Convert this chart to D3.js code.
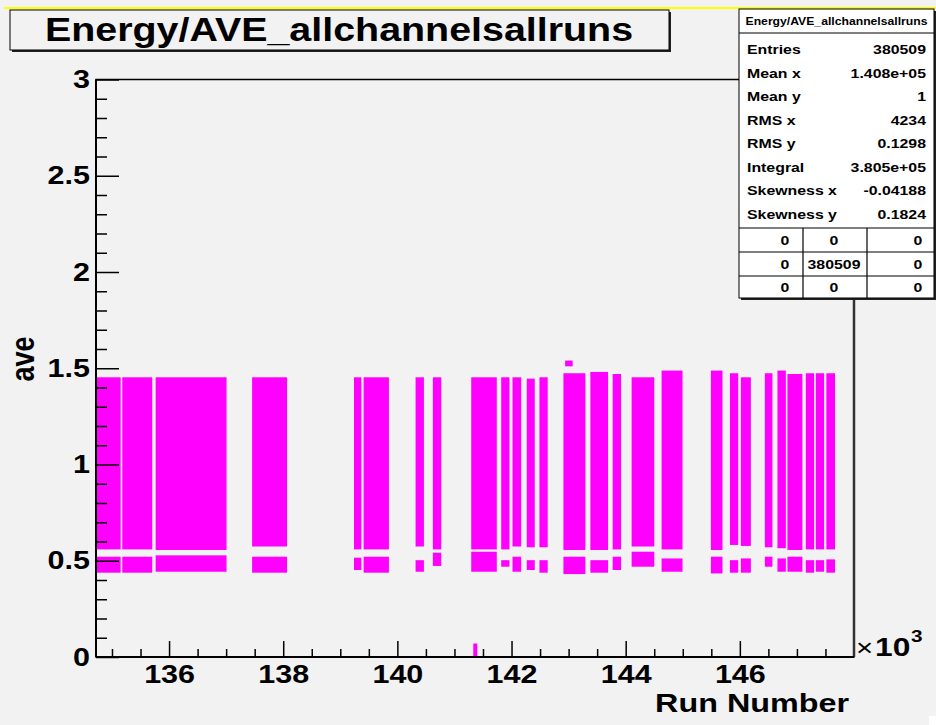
<!DOCTYPE html>
<html>
<head>
<meta charset="utf-8">
<script src="https://cdn.jsdelivr.net/npm/d3@7"></script>
<style>
  html, body { margin: 0; padding: 0; background: #f2f2f2; }
  svg { display: block; }
</style>
</head>
<body>
<script>
// Run blocks: run-number range (x1000) and the ave values covered by each block
const runStart = [134.732, 135.180, 135.765, 137.455, 139.240, 139.409, 140.319, 140.622, 141.294, 141.819,
                  142.017, 142.267, 142.489, 142.909, 143.381, 143.772, 144.104, 144.629, 145.493, 145.826,
                  146.018, 146.438, 146.659, 146.834, 147.156, 147.331, 147.516];
const runEnd   = [135.152, 135.705, 137.007, 138.067, 139.369, 139.852, 140.465, 140.769, 141.742, 141.964,
                  142.169, 142.407, 142.634, 143.294, 143.691, 143.919, 144.501, 144.996, 145.696, 145.971,
                  146.193, 146.571, 146.806, 147.096, 147.301, 147.476, 147.668];
// main band (upper / lower edge of ave)
const aveHigh  = [1.453, 1.453, 1.453, 1.453, 1.453, 1.453, 1.453, 1.453, 1.453, 1.453,
                  1.453, 1.446, 1.453, 1.474, 1.481, 1.470, 1.453, 1.488, 1.488, 1.474,
                  1.453, 1.474, 1.488, 1.470, 1.474, 1.474, 1.474];
const aveLow   = [0.559, 0.559, 0.556, 0.574, 0.559, 0.559, 0.574, 0.559, 0.559, 0.559,
                  0.574, 0.570, 0.570, 0.556, 0.556, 0.559, 0.574, 0.559, 0.556, 0.582,
                  0.577, 0.570, 0.565, 0.556, 0.559, 0.559, 0.559];
// low-ave cluster beneath each block
const tailHigh = [0.521, 0.521, 0.528, 0.521, 0.516, 0.521, 0.503, 0.542, 0.547, 0.503,
                  0.521, 0.503, 0.503, 0.521, 0.503, 0.521, 0.547, 0.512, 0.521, 0.503,
                  0.512, 0.521, 0.512, 0.521, 0.503, 0.503, 0.507];
const tailLow  = [0.438, 0.438, 0.443, 0.438, 0.452, 0.438, 0.443, 0.473, 0.443, 0.469,
                  0.443, 0.452, 0.438, 0.431, 0.438, 0.452, 0.469, 0.443, 0.434, 0.438,
                  0.438, 0.469, 0.443, 0.443, 0.438, 0.443, 0.438];
// isolated entries
const strayStart = [142.939, 141.330];
const strayEnd   = [143.071, 141.400];
const strayHigh  = [1.540, 0.070];
const strayLow   = [1.510, 0.000];

// axes
const xMajor = [136, 138, 140, 142, 144, 146];
const xMinor = [135, 135.5, 136.5, 137, 137.5, 138.5, 139, 139.5, 140.5, 141, 141.5,
                142.5, 143, 143.5, 144.5, 145, 145.5, 146.5, 147, 147.5];
const yMajor = [0, 0.5, 1, 1.5, 2, 2.5, 3];
const yMinor = [0.1, 0.2, 0.3, 0.4, 0.6, 0.7, 0.8, 0.9, 1.1, 1.2, 1.3, 1.4, 1.6, 1.7, 1.8, 1.9,
                2.1, 2.2, 2.3, 2.4, 2.6, 2.7, 2.8, 2.9];

// statistics box
const histName = "Energy/AVE_allchannelsallruns";
const statLabels = ["Entries", "Mean x", "Mean y", "RMS x", "RMS y", "Integral", "Skewness x", "Skewness y"];
const statValues = ["380509", "1.408e+05", "1", "4234", "0.1298", "3.805e+05", "-0.04188", "0.1824"];
const cellValues = [["0", "0", "0"], ["0", "380509", "0"], ["0", "0", "0"]];

const W = 936, H = 725;
const FONT = "'Liberation Sans', Arial, Helvetica, sans-serif";
const SX = 1.22;            // horizontal text stretch
const MAGENTA = "#ff00ff";

const svg = d3.select("body").append("svg").attr("width", W).attr("height", H);
svg.append("rect").attr("width", W).attr("height", H).attr("fill", "#f2f2f2");
svg.append("rect").attr("x", 929).attr("y", 716).attr("width", 7).attr("height", 9).attr("fill", "#ffffff");
svg.append("line").attr("x1", 4).attr("x2", W).attr("y1", 8).attr("y2", 8)
   .attr("stroke", "#ffff00").attr("stroke-width", 2);

const x = d3.scaleLinear().domain([134.72, 148.0]).range([96, 854]);
const y = d3.scaleLinear().domain([0, 3]).range([657, 79.5]);

function label(g, txt, px, py, size, anchor, weight) {
  return g.append("text")
    .attr("transform", `translate(${px},${py}) scale(${SX},1)`)
    .attr("font-family", FONT).attr("font-size", size)
    .attr("font-weight", weight || "bold")
    .attr("text-anchor", anchor || "start")
    .attr("fill", "#000").text(txt);
}

// data
const blocks = d3.range(runStart.length);
const plot = svg.append("g");
plot.selectAll("rect.band").data(blocks).join("rect").attr("class", "band")
  .attr("x", i => x(runStart[i])).attr("width", i => x(runEnd[i]) - x(runStart[i]))
  .attr("y", i => y(aveHigh[i])).attr("height", i => y(aveLow[i]) - y(aveHigh[i]))
  .attr("fill", MAGENTA);
plot.selectAll("rect.tail").data(blocks).join("rect").attr("class", "tail")
  .attr("x", i => x(runStart[i])).attr("width", i => x(runEnd[i]) - x(runStart[i]))
  .attr("y", i => y(tailHigh[i])).attr("height", i => y(tailLow[i]) - y(tailHigh[i]))
  .attr("fill", MAGENTA);
plot.selectAll("rect.stray").data(d3.range(strayStart.length)).join("rect").attr("class", "stray")
  .attr("x", i => x(strayStart[i])).attr("width", i => x(strayEnd[i]) - x(strayStart[i]))
  .attr("y", i => y(strayHigh[i])).attr("height", i => y(strayLow[i]) - y(strayHigh[i]))
  .attr("fill", MAGENTA);

// axes (ticks point inward)
function styleAxis(g) {
  g.select(".domain").remove();
  g.selectAll("line").attr("stroke", "#000").attr("stroke-width", 1.5);
  g.selectAll("text").attr("font-family", FONT).attr("font-size", 25)
    .attr("font-weight", "bold").attr("fill", "#000")
    .attr("transform", `scale(${SX},1)`);
}
const gx = svg.append("g").attr("transform", `translate(0,${y(0)})`)
  .call(d3.axisBottom(x).tickValues(xMajor).tickSize(-16).tickPadding(8).tickFormat(d3.format("d")));
styleAxis(gx);
const gxm = svg.append("g").attr("transform", `translate(0,${y(0)})`)
  .call(d3.axisBottom(x).tickValues(xMinor).tickSize(-8).tickFormat(""));
styleAxis(gxm);
const gy = svg.append("g").attr("transform", `translate(${x.range()[0]},0)`)
  .call(d3.axisLeft(y).tickValues(yMajor).tickSize(-23).tickPadding(5).tickFormat(d3.format("~g")));
styleAxis(gy);
const gym = svg.append("g").attr("transform", `translate(${x.range()[0]},0)`)
  .call(d3.axisLeft(y).tickValues(yMinor).tickSize(-11).tickFormat(""));
styleAxis(gym);

// frame
const [fx0, fx1] = x.range(), [fy0, fy1] = y.range();
svg.append("rect").attr("x", fx0).attr("y", fy1).attr("width", fx1 - fx0).attr("height", fy0 - fy1)
  .attr("fill", "none").attr("stroke", "#000").attr("stroke-width", 1.5);
svg.append("line").attr("x1", fx1).attr("x2", fx1).attr("y1", fy1).attr("y2", fy0)
  .attr("stroke", "#333").attr("stroke-width", 2.5);
svg.append("line").attr("x1", fx0).attr("x2", fx0).attr("y1", fy1).attr("y2", fy0)
  .attr("stroke", "#000").attr("stroke-width", 2);
svg.append("line").attr("x1", fx0).attr("x2", fx1).attr("y1", fy0).attr("y2", fy0)
  .attr("stroke", "#000").attr("stroke-width", 2);

// axis titles
label(svg, "Run Number", 849, 712, 26.5, "end");
svg.append("text")
  .attr("transform", `translate(34,359) scale(${SX},1) rotate(-90)`)
  .attr("font-family", FONT).attr("font-size", 27).attr("font-weight", "bold")
  .attr("text-anchor", "middle").attr("fill", "#000").text("ave");
label(svg, "\u00d7", 856, 656, 24, "start", "normal");
label(svg, "10", 875, 656, 26);
label(svg, "3", 911, 642, 17);

// title box
const title = svg.append("g");
title.append("rect").attr("x", 12).attr("y", 12).attr("width", 659).attr("height", 40).attr("fill", "#222");
title.append("rect").attr("x", 10).attr("y", 10).attr("width", 659).attr("height", 40)
  .attr("fill", "#f2f2f2").attr("stroke", "#000").attr("stroke-width", 1);
label(title, histName, 339, 41, 32.3, "middle");

// statistics box
const sb = svg.append("g");
const bx0 = 739, bx1 = 934, by0 = 9, by1 = 298;
sb.append("rect").attr("x", bx0 + 2).attr("y", by0 + 2).attr("width", bx1 - bx0).attr("height", by1 - by0).attr("fill", "#222");
sb.append("rect").attr("x", bx0).attr("y", by0).attr("width", bx1 - bx0).attr("height", by1 - by0)
  .attr("fill", "#ffffff").attr("stroke", "#000").attr("stroke-width", 1);
sb.append("line").attr("x1", bx0).attr("x2", bx1).attr("y1", 33).attr("y2", 33).attr("stroke", "#000");
label(sb, histName, (bx0 + bx1) / 2, 25, 10, "middle");
statLabels.forEach((s, i) => {
  label(sb, s, 747, 54 + 23.5 * i, 13);
  label(sb, statValues[i], 926, 54 + 23.5 * i, 13, "end");
});
const rowLines = [228, 252, 276];
rowLines.forEach(v => sb.append("line").attr("x1", bx0).attr("x2", bx1).attr("y1", v).attr("y2", v)
  .attr("stroke", "#000").attr("stroke-width", 1.2));
[803, 867].forEach(v => sb.append("line").attr("x1", v).attr("x2", v).attr("y1", 228).attr("y2", by1)
  .attr("stroke", "#000").attr("stroke-width", 1.2));
const cellX = [785, 834, 918];
const cellY = [245, 269, 292];
cellValues.forEach((row, r) => row.forEach((v, c) => label(sb, v, cellX[c], cellY[r], 13, "middle")));
</script>
</body>
</html>
